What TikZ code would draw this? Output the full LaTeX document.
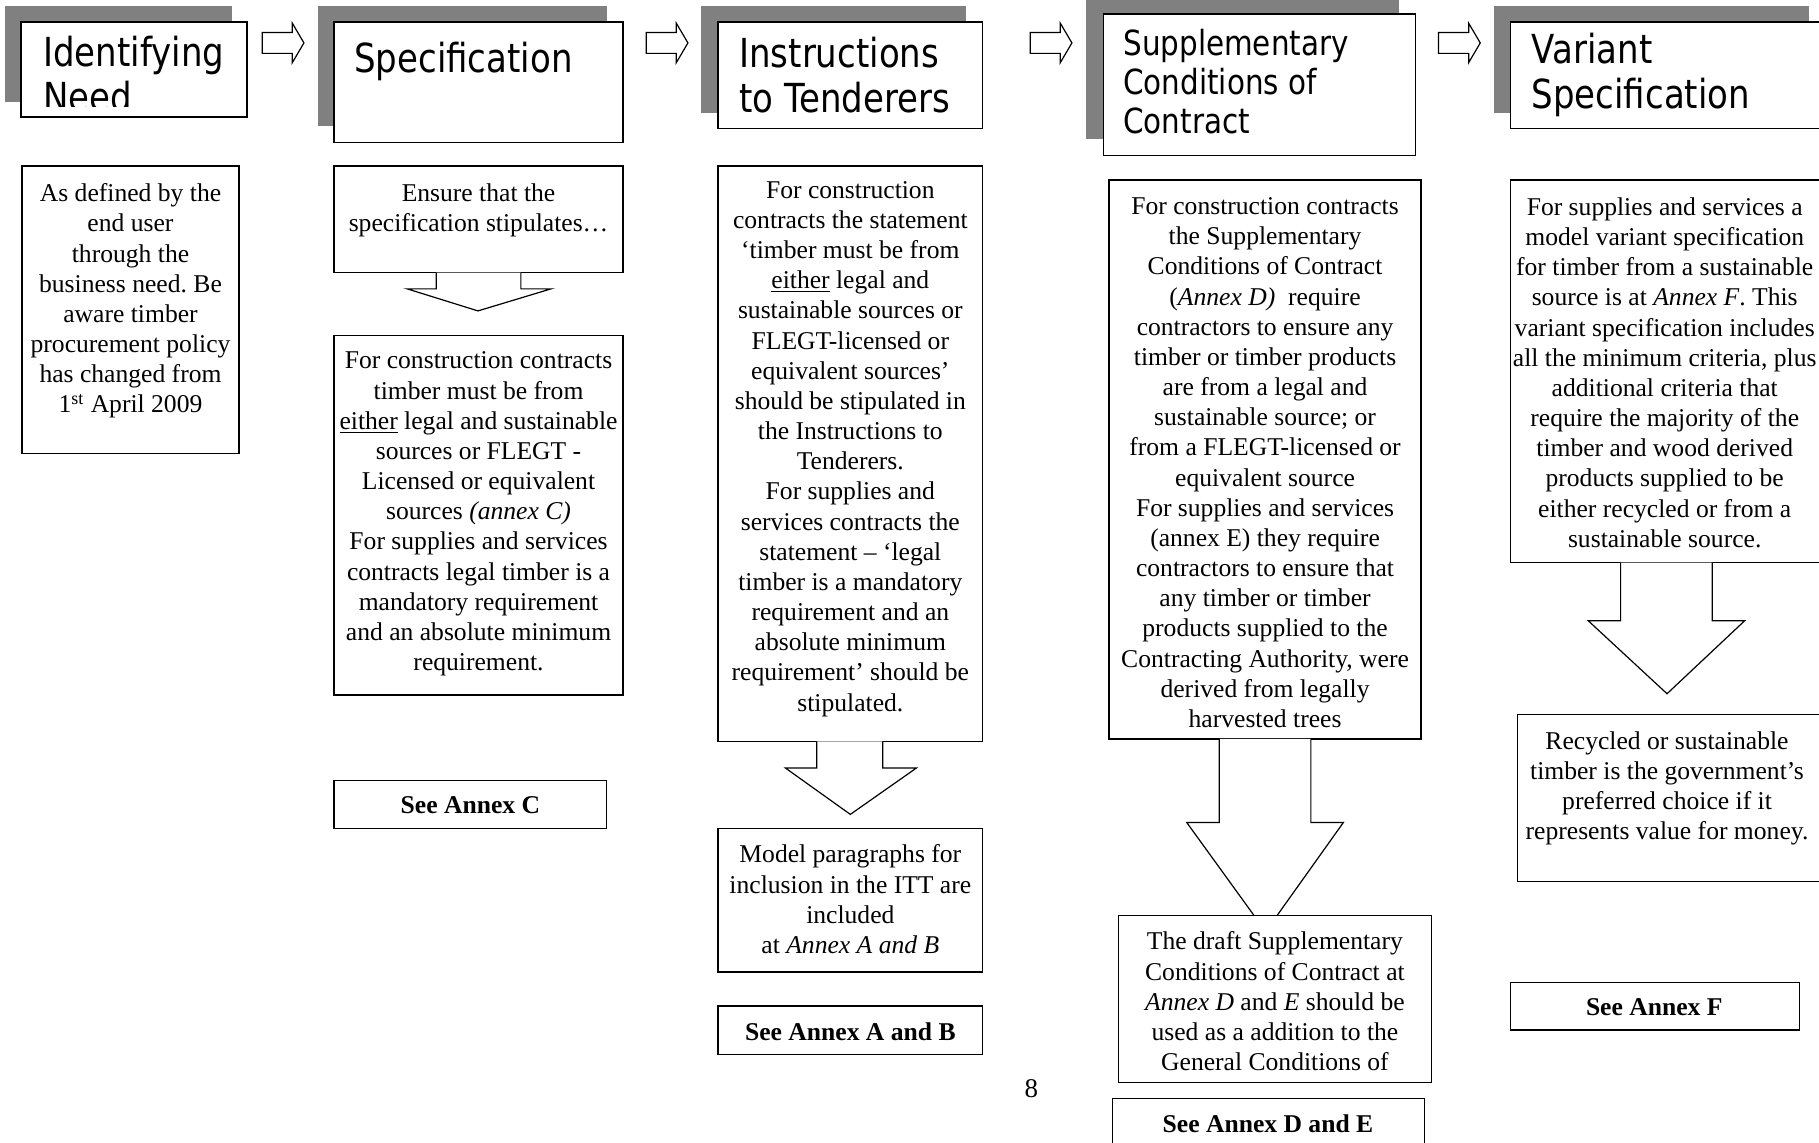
\documentclass[tikz,border=0pt]{standalone}
\usepackage{fontspec}
\setmainfont{Liberation Serif}
\newfontfamily\hdfamily[FakeStretch=0.85]{DejaVu Sans}
\usetikzlibrary{fit}
\frenchspacing
\definecolor{shadowgray}{HTML}{808080}
\newcommand\bodysize{\fontsize{12.8}{15.08}\selectfont}
\newcommand\hdrsize{\hdfamily\fontsize{20}{22.5}\selectfont}
\newcommand\hdrsizeb{\hdfamily\fontsize{17.3}{19.5}\selectfont}
\newcommand\blockarrowR[1]{\draw[blk] (#1,28) -- (#1+26,28) -- (#1+26,20) -- (#1+36,37) -- (#1+26,54) -- (#1+26,46) -- (#1,46) -- cycle;}
\begin{document}
\begin{tikzpicture}[x=0.58pt,y=-0.58pt,
  shadow/.style={fill=shadowgray, draw=none, inner sep=0pt},
  box/.style={draw, line width=0.7pt, fill=white, inner sep=0pt},
  body/.style={font=\bodysize\frenchspacing, align=center, inner sep=0pt, anchor=north},
  hdr/.style={font=\hdrsize, align=left, inner sep=0pt, anchor=north west},
  annex/.style={font=\bodysize\bfseries, inner sep=0pt},
  blk/.style={draw, line width=0.6pt, fill=white, line join=miter}]
\useasboundingbox (0,0) rectangle (1568,985);
\clip (0,0) rectangle (1568,985);

% header shadows and boxes
\node[shadow, fit={(4,5)(200,88)}] (h1s) {};
\node[box, fit={(18,19)(213,101)}] (h1) {};
\node[shadow, fit={(274,5)(523,109)}] (h2s) {};
\node[box, fit={(288,19)(537,123)}] (h2) {};
\node[shadow, fit={(604,5)(833,97)}] (h3s) {};
\node[box, fit={(619,19)(847,111)}] (h3) {};
\node[shadow, fit={(936,0)(1206,120)}] (h4s) {};
\node[box, fit={(951,12)(1220,134)}] (h4) {};
\node[shadow, fit={(1288,5)(1559,97)}] (h5s) {};
\node[box, fit={(1302,19)(1580,111)}] (h5) {};

% header texts
\begin{scope}
\clip (18,19) rectangle (213,92);
\node[hdr] (h1t) at (37,31) {Identifying\\Need};
\end{scope}
\node[hdr] (h2t) at (305,36) {Specification};
\node[hdr] (h3t) at (637,32) {Instructions\\to Tenderers};
\node[hdr, font=\hdrsizeb] (h4t) at (968,25) {Supplementary\\Conditions of\\Contract};
\node[hdr] (h5t) at (1320,28) {Variant\\Specification};

% right block arrows between headers
\blockarrowR{226}
\blockarrowR{557}
\blockarrowR{888}
\blockarrowR{1240}

% upper body boxes
\node[box, fit={(19,143)(206,391)}] (b1) {};
\node[box, fit={(288,143)(537,235)}] (b2a) {};
\node[box, fit={(619,143)(847,639)}] (b3a) {};
\node[box, fit={(956,155)(1225,637)}] (b4a) {};
\node[box, fit={(1302,155)(1580,485)}] (b5a) {};

% down block arrows
\draw[blk] (376,235) -- (376,249) -- (351,249) -- (412,268) -- (475,249) -- (449,249) -- (449,235);
\draw[blk] (704,639) -- (704,662) -- (677,662) -- (733,702) -- (790,662) -- (761,662) -- (761,639);
\draw[blk] (1051,637) -- (1051,709) -- (1023,709) -- (1091,803) -- (1158,709) -- (1130,709) -- (1130,637);
\draw[blk] (1397,485) -- (1397,535) -- (1369,535) -- (1437,598) -- (1504,535) -- (1476,535) -- (1476,485);

% lower boxes
\node[box, fit={(288,289)(537,599)}] (b2b) {};
\node[box, fit={(288,673)(523,714)}] (a2) {};
\node[box, fit={(619,714)(847,838)}] (b3b) {};
\node[box, fit={(619,867)(847,909)}] (a3) {};
\node[box, fit={(964,789)(1234,933)}] (b4b) {};
\node[box, fit={(959,947)(1228,1000)}] (a4) {};
\node[box, fit={(1308,616)(1580,760)}] (b5b) {};
\node[box, fit={(1302,847)(1551,888)}] (a5) {};

% body texts
\node[body] (b1t) at (112.5,158) {As defined by the\\end user\\through the\\business need. Be\\aware timber\\procurement policy\\has changed from\\1\textsuperscript{st} April 2009};
\node[body] (b2at) at (412.5,158) {Ensure that the\\specification stipulates…};
\node[body] (b2bt) at (412.5,303) {For construction contracts\\timber must be from\\\underline{either} legal and sustainable\\sources or FLEGT -\\Licensed or equivalent\\sources \textit{(annex C)}\\For supplies and services\\contracts legal timber is a\\mandatory requirement\\and an absolute minimum\\requirement.};
\node[annex] (a2t) at (405.5,694) {See Annex C};

\node[body] (b3at) at (733,156) {For construction\\contracts the statement\\‘timber must be from\\\underline{either} legal and\\sustainable sources or\\FLEGT-licensed or\\equivalent sources’\\should be stipulated in\\the Instructions to\\Tenderers.\\For supplies and\\services contracts the\\statement – ‘legal\\timber is a mandatory\\requirement and an\\absolute minimum\\requirement’ should be\\stipulated.};
\node[body] (b3bt) at (733,728) {Model paragraphs for\\inclusion in the ITT are\\included\\at \textit{Annex A and B}};
\node[annex] (a3t) at (733,889) {See Annex A and B};

\node[body] (b4at) at (1090.5,170) {For construction contracts\\the Supplementary\\Conditions of Contract\\(\textit{Annex D)}\ \ require\\contractors to ensure any\\timber or timber products\\are from a legal and\\sustainable source; or\\from a FLEGT-licensed or\\equivalent source\\For supplies and services\\(annex E) they require\\contractors to ensure that\\any timber or timber\\products supplied to the\\Contracting Authority, were\\derived from legally\\harvested trees};
\node[body] (b4bt) at (1099,803) {The draft Supplementary\\Conditions of Contract at\\\textit{Annex D} and \textit{E} should be\\used as a addition to the\\General Conditions of};
\node[annex] (a4t) at (1093,969) {See Annex D and E};

\node[body] (b5at) at (1435,170) {For supplies and services a\\model variant specification\\for timber from a sustainable\\source is at \textit{Annex F}. This\\variant specification includes\\all the minimum criteria, plus\\additional criteria that\\require the majority of the\\timber and wood derived\\products supplied to be\\either recycled or from a\\sustainable source.};
\node[body] (b5bt) at (1437,630) {Recycled or sustainable\\timber is the government’s\\preferred choice if it\\represents value for money.};
\node[annex] (a5t) at (1426,868) {See Annex F};

\node[font=\fontsize{13.5}{15}\selectfont, inner sep=0pt] (pg) at (889,938) {8};
\end{tikzpicture}
\end{document}
